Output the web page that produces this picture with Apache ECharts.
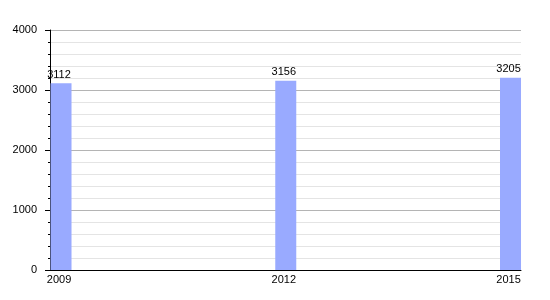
<!DOCTYPE html>
<html>
<head>
<meta charset="utf-8">
<script src="https://cdn.jsdelivr.net/npm/echarts@6/dist/echarts.min.js"></script>
<style>html,body{margin:0;padding:0;background:#fff}#c{width:550px;height:300px}</style>
</head>
<body>
<div id="c"></div>
<script>
var years = [2009, 2012, 2015];
var population = [3112, 3156, 3205];
var yTicks = [0, 1000, 2000, 3000, 4000];

var chart = echarts.init(document.getElementById('c'), null, {renderer: 'canvas'});
var font = 'Liberation Sans, Arial, sans-serif';
chart.setOption({
  animation: false,
  grid: {left: 50, right: 29, top: 30, bottom: 30, containLabel: false},
  xAxis: {
    type: 'value',
    min: 2008.853,
    max: 2015.14,
    axisLine: {show: true, onZero: false, lineStyle: {color: '#000', width: 1}},
    axisTick: {show: false},
    splitLine: {show: false},
    axisLabel: {
      customValues: years,
      margin: 4,
      padding: [0, 4, 0, 0],
      color: '#000',
      fontSize: 11,
      fontFamily: font,
      formatter: function (v) { return String(v); }
    }
  },
  yAxis: {
    type: 'value',
    min: yTicks[0],
    max: yTicks[yTicks.length - 1],
    interval: 1000,
    axisLine: {show: true, lineStyle: {color: '#000', width: 1}},
    axisTick: {show: true, length: 5, lineStyle: {color: '#000'}},
    minorTick: {show: true, splitNumber: 5, length: 2, lineStyle: {color: '#000'}},
    splitLine: {show: true, lineStyle: {color: '#b4b4b4', width: 1}},
    minorSplitLine: {show: true, lineStyle: {color: '#e4e4e4', width: 1}},
    axisLabel: {
      margin: 13,
      color: '#000',
      fontSize: 11,
      fontFamily: font,
      formatter: function (v) { return String(v); }
    }
  },
  series: [{
    type: 'bar',
    barWidth: 21,
    itemStyle: {color: '#99aaff'},
    label: {
      show: true,
      position: 'top',
      distance: 3,
      offset: [-2, 0],
      color: '#000',
      fontSize: 11,
      fontFamily: font,
      formatter: function (p) { return String(p.value[1]); }
    },
    data: years.map(function (y, i) { return [y, population[i]]; })
  }]
});
</script>
</body>
</html>
